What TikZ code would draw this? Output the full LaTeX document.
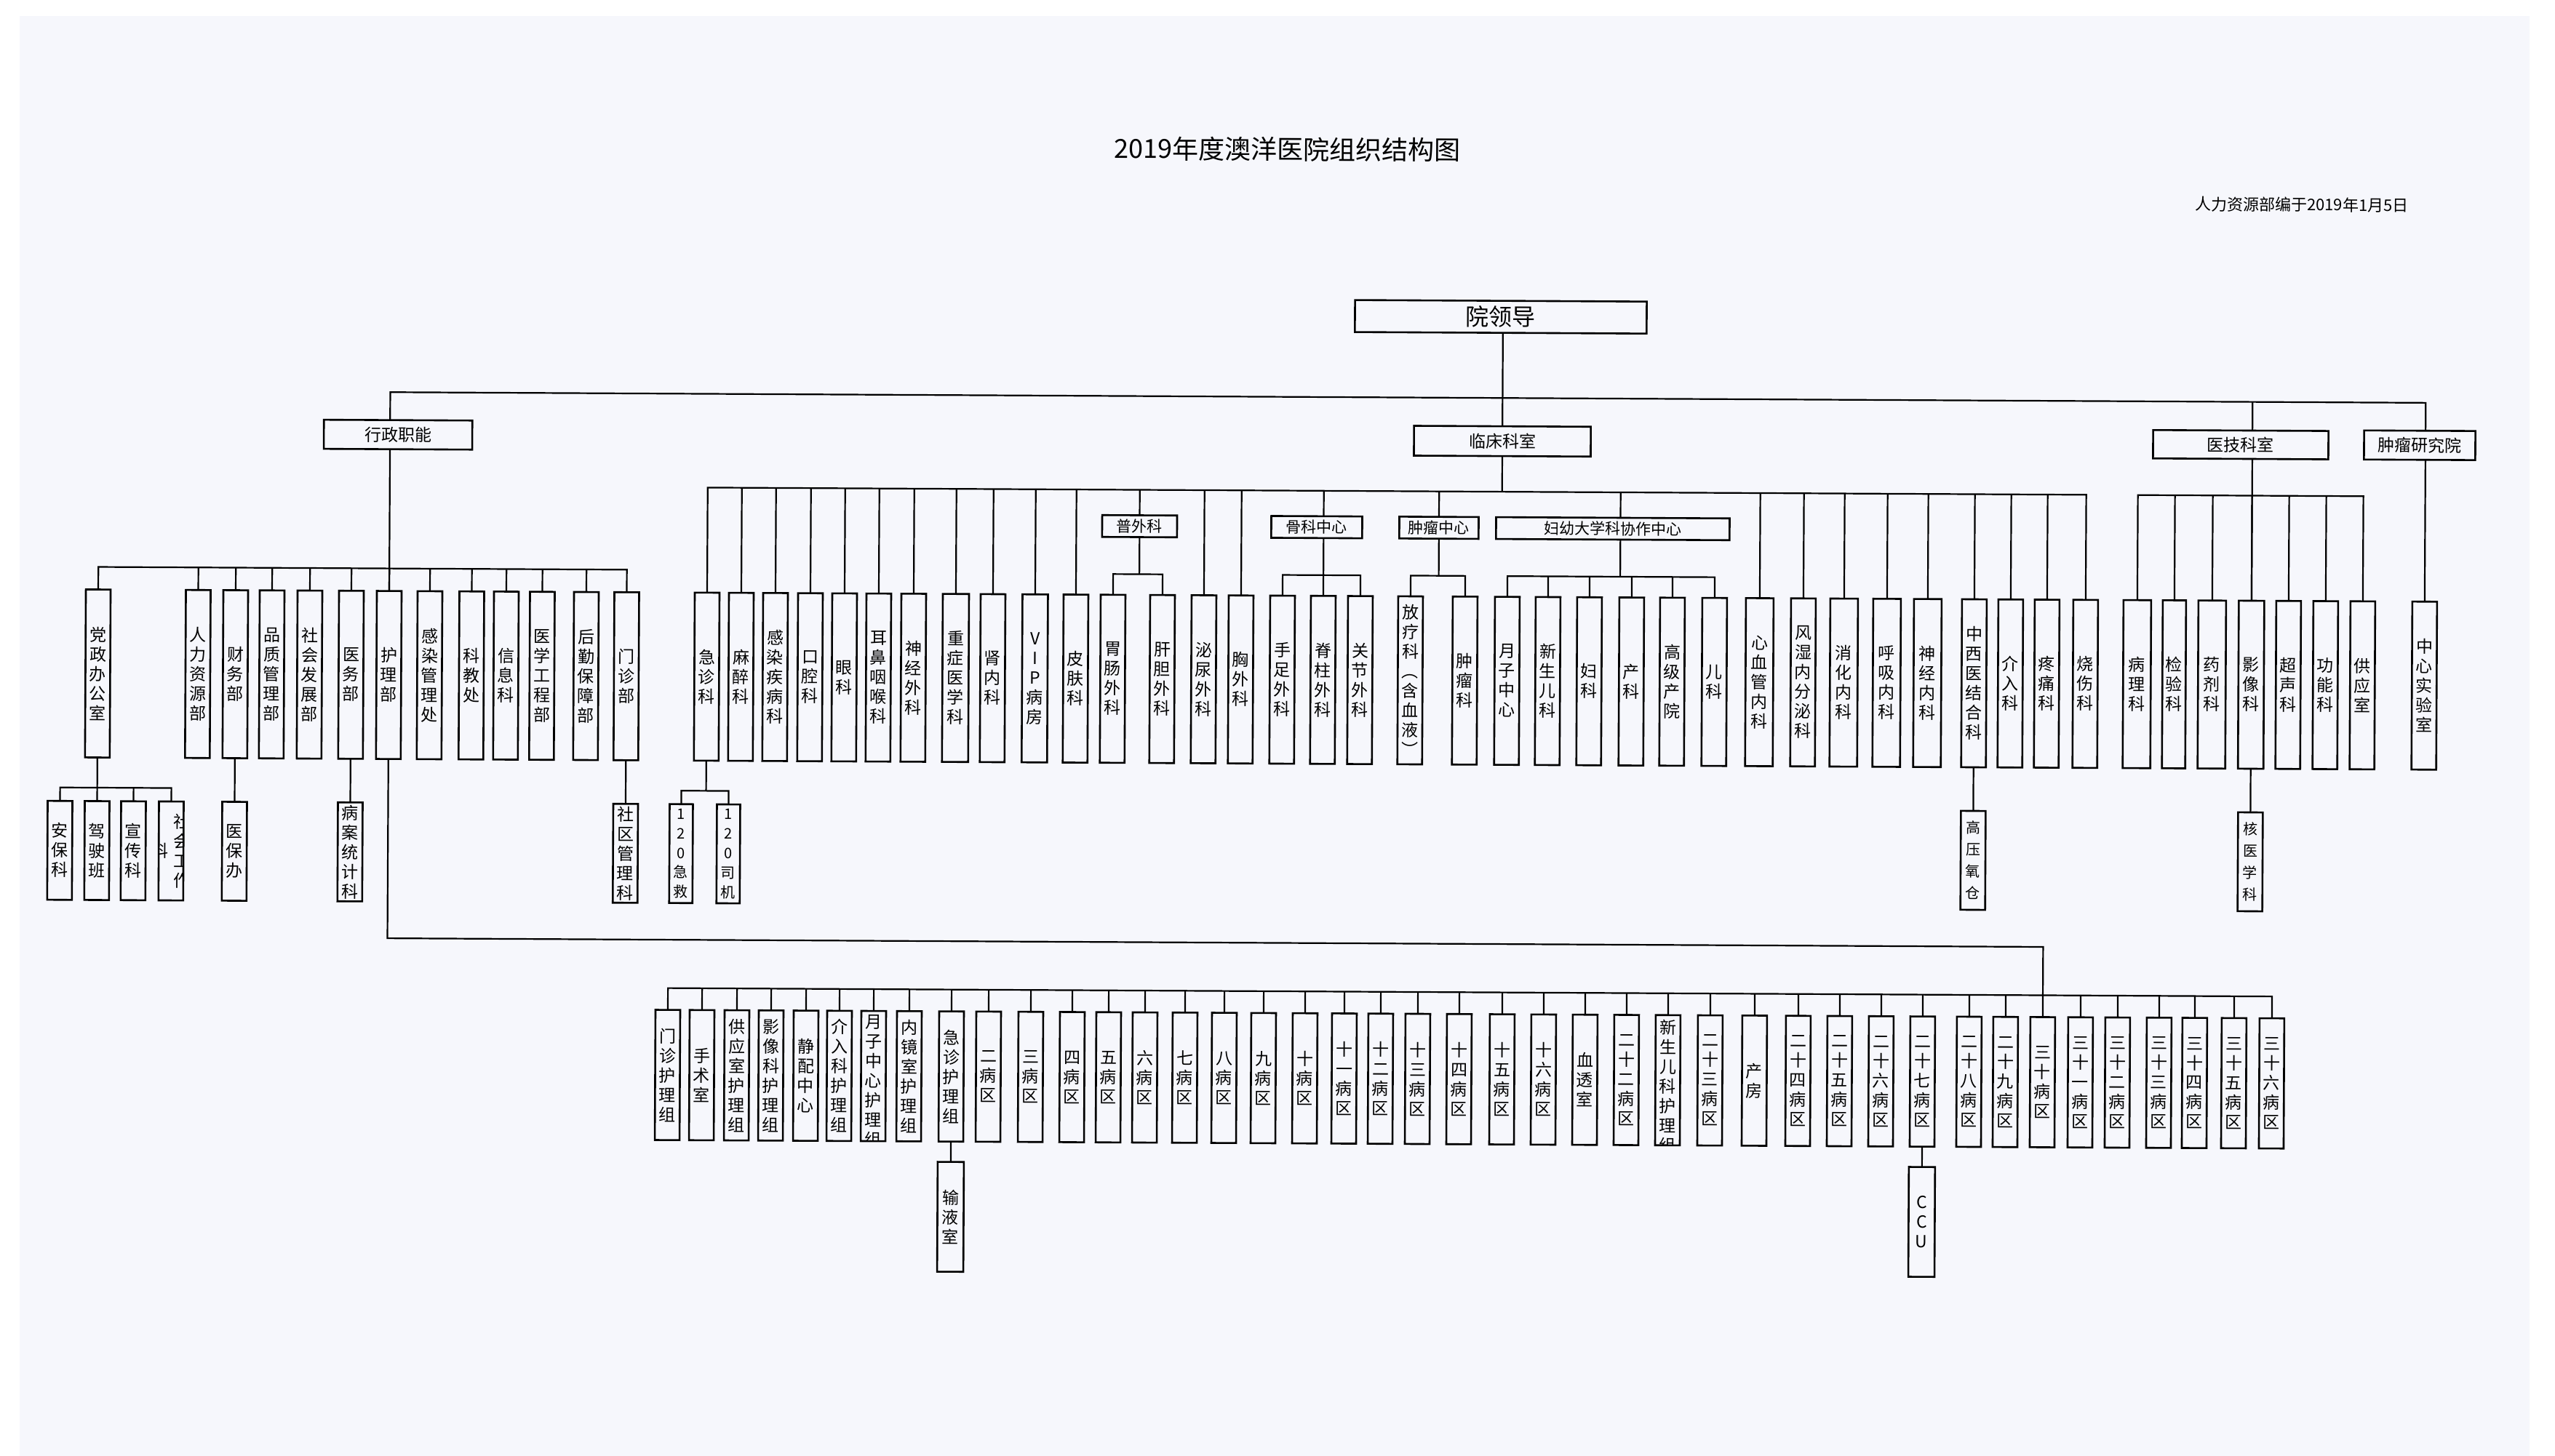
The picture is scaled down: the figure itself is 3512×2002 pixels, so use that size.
\documentclass[tikz,border=0pt]{standalone}
\usepackage{fontspec}
\setmainfont{Noto Sans CJK SC}
\definecolor{pagecol}{RGB}{246,247,252}
\ExplSyntaxOn
\cs_new_protected:Npn \vtaux:n #1
  {
    \tl_head:n {#1}
    \exp_args:Ne \tl_map_inline:nn { \tl_tail:n {#1} } { \\ ##1 }
  }
\cs_generate_variant:Nn \vtaux:n { e }
\NewDocumentCommand \vt { m } { \vtaux:e {#1} }
\ExplSyntaxOff
\tikzset{
  conn/.style={line width=2.2pt, line join=miter},
  bx/.style={draw, line width=2.6pt, inner sep=0pt, outer sep=0pt, align=center},
  vT/.style={bx, anchor=north, minimum width=34pt, minimum height=231pt, font=\fontsize{23}{27}\selectfont},
  vS/.style={bx, anchor=north, minimum width=34pt, minimum height=136pt, font=\fontsize{23}{27}\selectfont},
  vN/.style={bx, anchor=north, minimum width=34pt, minimum height=179pt, font=\fontsize{23}{27}\selectfont},
  vC/.style={bx, anchor=north, minimum width=36pt, minimum height=151pt, font=\fontsize{23}{27}\selectfont},
  hb/.style={bx, font=\fontsize{23}{27}\selectfont},
  hs/.style={bx, minimum height=30pt, font=\fontsize{21}{25}\selectfont},
  vtx/.style={inner sep=0pt, align=center, font=\fontsize{23}{27}\selectfont},
}
\begin{document}
\begin{tikzpicture}[x=1pt,y=-1pt]
\fill[white] (0,0) rectangle (3512,2002);
\fill[pagecol] (27,22) rectangle (3477,2002);
\useasboundingbox (0,0) rectangle (3512,2002);
\begin{scope}[transform canvas={rotate around={-0.3:(1756,1000)}}]
% bus levels
\coordinate (tb) at (0,545.6);
\coordinate (cb) at (0,674.5);
\coordinate (sb) at (0,790.5);
\coordinate (ab) at (0,788);
\coordinate (ssb) at (0,1091.5);
\coordinate (nc) at (0,1296.5);
\coordinate (nb) at (0,1363);
\coordinate (fyx) at (2226,0);

% titles
\node[inner sep=0pt, font=\fontsize{36}{40}\selectfont] (title) at (1765,205) {2019年度澳洋医院组织结构图};
\node[inner sep=0pt, anchor=east, font=\fontsize{22}{26}\selectfont] (note) at (3307,274) {人力资源部编于2019年1月5日};

% top level boxes
\node[bx, minimum width=401pt, minimum height=44pt, font=\fontsize{32}{36}\selectfont] (ld) at (2060,434) {院领导};
\node[hb, minimum width=204pt, minimum height=40pt] (xz) at (545,604) {行政职能};
\node[hb, minimum width=243pt, minimum height=41pt] (lc) at (2063,605) {临床科室};
\node[hb, minimum width=241pt, minimum height=39pt] (yj) at (3078,604.5) {医技科室};
\node[hb, minimum width=153pt, minimum height=40pt] (zy) at (3324,604) {肿瘤研究院};

% administrative
\foreach \nm/\cx/\lbl in {a1/134/党政办公室, a2/271.5/人力资源部, a3/323/财务部, a4/373/品质管理部, a5/425/社会发展部, a6/482/医务部, a7/534/护理部, a8/590/感染管理处, a9/647.5/科教处, a10/695/信息科, a11/744.5/医学工程部, a12/805/后勤保障部, a13/860.5/门诊部}
  {\node[vT] (\nm) at (\cx,819) {\vt{\lbl}};}

\node[vS] (s1) at (83,1110) {\vt{安保科}};
\node[vS] (s2) at (134,1110) {\vt{驾驶班}};
\node[vS] (s3) at (184,1110) {\vt{宣传科}};
\node[vS] (s4) at (236,1110) {};
\begin{scope}
\clip (s4.north west) rectangle (s4.south east);
\node[vtx] (s4a) at (251,1178) {\vt{社会工作}};
\node[vtx] (s4b) at (221,1178) {科};
\end{scope}
\node[vS] (s5) at (323,1110) {\vt{医保办}};
\node[vS] (s6) at (482,1110) {\vt{病案统计科}};
\node[vS] (s7) at (860.5,1110) {\vt{社区管理科}};

% clinical
\foreach \nm/\cx/\w/\lbl in {c1/971/34/急诊科, c2/1018/34/麻醉科, c3/1065/34/感染疾病科, c4/1113/34/口腔科, c5/1160/34/眼科, c6/1207/34/耳鼻咽喉科, c7/1255/34/神经外科, c8/1313/36/重症医学科, c9/1364/34/肾内科, c10/1422/35/VIP病房, c11/1478/34/皮肤科, g1/1529/34/胃肠外科, g2/1597/34/肝胆外科, c12/1654/34/泌尿外科, c13/1705/34/胸外科, k1/1762/34/手足外科, k2/1818/34/脊柱外科, k3/1869/34/关节外科, t1/1938/34/放疗科︵含血液︶, t2/2013/34/肿瘤科, f1/2071/34/月子中心, f2/2127/34/新生儿科, f3/2184/34/妇科, f4/2242/34/产科, f5/2298/34/高级产院, f6/2356/34/儿科, c14/2418/38/心血管内科, c15/2478/34/风湿内分泌科, c16/2534/38/消化内科, c17/2593/38/呼吸内科, c18/2649/38/神经内科, c19/2713/34/中西医结合科, c20/2763/34/介入科, c21/2813/34/疼痛科, c22/2866/34/烧伤科}
  {\node[vT, minimum width=\w pt] (\nm) at (\cx,819) {\vt{\lbl}};}

\node[hs, minimum width=103pt] (pw) at (1565,724.5) {普外科};
\node[hs, minimum width=125pt] (gk) at (1808.5,724.5) {骨科中心};
\node[hs, minimum width=109pt] (zl) at (1976.5,724.5) {肿瘤中心};
\node[hs, minimum width=321pt] (fy) at (2215.5,724.5) {妇幼大学科协作中心};

\node[vS, minimum width=32pt, font=\fontsize{20}{27}\selectfont] (e1) at (937,1110) {\vt{120急救}};
\node[vS, minimum width=32pt, font=\fontsize{20}{27}\selectfont] (e2) at (1002,1110) {\vt{120司机}};
\node[vS, font=\fontsize{20}{30}\selectfont] (hy) at (2713,1110) {\vt{高压氧仓}};

% medical technology
\foreach \nm/\cx/\w/\lbl in {m1/2937/38/病理科, m2/2988/32/检验科, m3/3040/38/药剂科, m4/3094/35/影像科, m5/3145/34/超声科, m6/3196/34/功能科, m7/3247/34/供应室, lab/3332/34/中心实验室}
  {\node[vT, minimum width=\w pt] (\nm) at (\cx,819) {\vt{\lbl}};}
\node[vS, font=\fontsize{20}{30}\selectfont] (hx) at (3094,1110) {\vt{核医学科}};

% nursing
\foreach \i/\cx/\lbl in {1/920/门诊护理组, 2/967/手术室, 3/1015/供应室护理组, 4/1062/影像科护理组, 5/1110/静配中心, 6/1156/介入科护理组, 8/1252/内镜室护理组, 9/1310/急诊护理组, 10/1361/二病区, 11/1419/三病区, 12/1476/四病区, 13/1526/五病区, 14/1576/六病区, 15/1631/七病区, 16/1685/八病区, 17/1739/九病区, 18/1796/十病区, 19/1850/十一病区, 20/1900/十二病区, 21/1951/十三病区, 22/2008/十四病区, 23/2067/十五病区, 24/2124/十六病区, 25/2181/血透室, 26/2238/二十二病区, 28/2353/二十三病区, 29/2414/产房, 30/2474/二十四病区, 31/2531/二十五病区, 32/2588/二十六病区, 33/2645/二十七病区, 34/2709/二十八病区, 35/2759/二十九病区, 36/2810/三十病区, 37/2862/三十一病区, 38/2913/三十二病区, 39/2970/三十三病区, 40/3019/三十四病区, 41/3073/三十五病区, 42/3125/三十六病区}
  {\node[vN] (n\i) at (\cx,1393) {\vt{\lbl}};}
\node[vN] (n7) at (1203,1393) {};
\node[vN] (n27) at (2295,1393) {};
\begin{scope}
\clip (n7.north west) rectangle (n7.south east);
\node[vtx, anchor=north] (n7t) at (1203,1398) {\vt{月子中心护理组}};
\end{scope}
\begin{scope}
\clip (n27.north west) rectangle (n27.south east);
\node[vtx, anchor=north] (n27t) at (2295,1399) {\vt{新生儿科护理组}};
\end{scope}
\node[vC] (ny) at (1310,1600) {\vt{输液室}};
\node[vC] (ccu) at (2645,1600) {\vt{CCU}};

% ---------- connectors ----------
\draw[conn] (a7.north |- xz.north) -- (a7.north |- tb) -- (lab.north |- tb) -- (lab.north |- zy.north);
\draw[conn] (a7.north |- xz.south) -- (a7.north);
\draw[conn] (ld.south -| lc.north) -- (lc.north);
\draw[conn] (lc.south) -- (lc.south |- cb);
\draw[conn] (m4.north |- tb) -- (m4.north |- yj.north);
\draw[conn] (m4.north |- yj.south) -- (m4.north);
\draw[conn] (lab.north |- zy.south) -- (lab.north);

% admin bus
\draw[conn] (a1.north) -- (a1.north |- ab) -- (a13.north |- ab) -- (a13.north);
\foreach \i in {2,...,12} {\draw[conn] (a\i.north) -- (a\i.north |- ab);}
\draw[conn] (a1.south) -- (a1.south |- ssb);
\draw[conn] (s1.north) -- (s1.north |- ssb) -- (s4.north |- ssb) -- (s4.north);
\draw[conn] (s2.north) -- (s2.north |- ssb);
\draw[conn] (s3.north) -- (s3.north |- ssb);
\draw[conn] (a3.south) -- (s5.north);
\draw[conn] (a6.south) -- (s6.north);
\draw[conn] (a13.south) -- (s7.north);

% clinical bus
\draw[conn] (c1.north) -- (c1.north |- cb) -- (c22.north |- cb) -- (c22.north);
\foreach \i in {2,...,21} {\draw[conn] (c\i.north) -- (c\i.north |- cb);}
\draw[conn] (pw.north |- cb) -- (pw.north);
\draw[conn] (pw.south) -- (pw.south |- sb);
\draw[conn] (g1.north) -- (g1.north |- sb) -- (g2.north |- sb) -- (g2.north);
\draw[conn] (k2.north |- cb) -- (k2.north |- gk.north);
\draw[conn] (k2.north |- gk.south) -- (k2.north);
\draw[conn] (k1.north) -- (k1.north |- sb) -- (k3.north |- sb) -- (k3.north);
\draw[conn] (zl.north |- cb) -- (zl.north);
\draw[conn] (zl.south) -- (zl.south |- sb);
\draw[conn] (t1.north) -- (t1.north |- sb) -- (t2.north |- sb) -- (t2.north);
\draw[conn] (fyx |- cb) -- (fyx |- fy.north);
\draw[conn] (fyx |- fy.south) -- (fyx |- sb);
\draw[conn] (f1.north) -- (f1.north |- sb) -- (f6.north |- sb) -- (f6.north);
\foreach \i in {2,...,5} {\draw[conn] (f\i.north) -- (f\i.north |- sb);}
\draw[conn] (c1.south) -- (c1.south |- ssb);
\draw[conn] (e1.north) -- (e1.north |- ssb) -- (e2.north |- ssb) -- (e2.north);
\draw[conn] (c19.south) -- (hy.north);

% medical technology bus
\draw[conn] (m1.north) -- (m1.north |- cb) -- (m7.north |- cb) -- (m7.north);
\foreach \i in {2,...,6} {\draw[conn] (m\i.north) -- (m\i.north |- cb);}
\draw[conn] (m4.south) -- (hx.north);

% nursing
\draw[conn] (a7.south) -- (a7.south |- nc) -- (n36.north |- nc) -- (n36.north |- nb);
\draw[conn] (n1.north) -- (n1.north |- nb) -- (n42.north |- nb) -- (n42.north);
\foreach \i in {2,...,41} {\draw[conn] (n\i.north) -- (n\i.north |- nb);}
\draw[conn] (n9.south) -- (ny.north);
\draw[conn] (n33.south) -- (ccu.north);
\end{scope}
\end{tikzpicture}
\end{document}
